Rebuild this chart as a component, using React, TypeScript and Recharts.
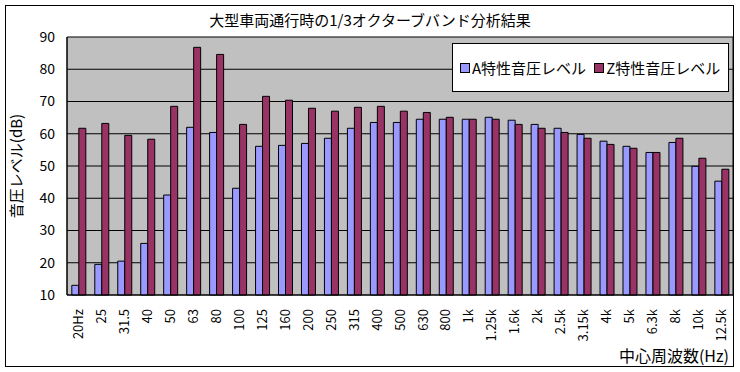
import { BarChart, Bar, XAxis, YAxis, CartesianGrid } from "recharts";

const bands = [
  "20Hz", "25", "31.5", "40", "50", "63", "80", "100", "125", "160",
  "200", "250", "315", "400", "500", "630", "800", "1k", "1.25k", "1.6k",
  "2k", "2.5k", "3.15k", "4k", "5k", "6.3k", "8k", "10k", "12.5k",
];

const aWeighted = [
  13.0, 19.5, 20.5, 26.0, 41.0, 62.0, 60.4, 43.1, 56.1, 56.4,
  57.0, 58.6, 61.7, 63.5, 63.5, 64.5, 64.5, 64.5, 65.1, 64.2,
  62.9, 61.7, 59.8, 57.7, 56.1, 54.2, 57.3, 49.9, 45.3,
];

const zWeighted = [
  61.7, 63.2, 59.5, 58.3, 68.5, 86.8, 84.6, 62.9, 71.6, 70.4,
  67.9, 67.0, 68.2, 68.5, 67.0, 66.6, 65.1, 64.5, 64.5, 62.9,
  61.7, 60.4, 58.6, 56.7, 55.5, 54.2, 58.6, 52.4, 49.0,
];

const yTicks = [10, 20, 30, 40, 50, 60, 70, 80, 90];

const seriesA = "A特性音圧レベル";
const seriesZ = "Z特性音圧レベル";

const FONT = "'Noto Sans CJK JP', 'Noto Sans', sans-serif";

const data = bands.map((band, i) => ({ band, a: aWeighted[i], z: zWeighted[i] }));

// vertical tick labels, reading bottom to top, top-aligned under the axis
function BandTick({ x, y, payload }: { x?: number; y?: number; payload?: { value: string } }) {
  const ty = (y ?? 0) + 6;
  return (
    <text
      x={x}
      y={ty}
      transform={`rotate(-90, ${x}, ${ty})`}
      textAnchor="end"
      dy="0.35em"
      fontSize={13}
      fontFamily={FONT}
      fill="#000"
    >
      {payload?.value}
    </text>
  );
}

function LegendBox() {
  const items = [
    { name: seriesA, color: "#9999FF" },
    { name: seriesZ, color: "#993366" },
  ];
  return (
    <div style={{
      position: "absolute", left: 452, top: 43, width: 277, height: 49,
      border: "1px solid #000", background: "#fff", boxSizing: "border-box",
      display: "flex", alignItems: "center", paddingLeft: 7,
      fontFamily: FONT, fontSize: 15, whiteSpace: "nowrap",
    }}>
      {items.map((it) => (
        <div key={it.name} style={{ display: "flex", alignItems: "center", marginRight: 8 }}>
          <span style={{ width: 8, height: 8, background: it.color, border: "1px solid #000", marginRight: 2 }} />
          <span>{it.name}</span>
        </div>
      ))}
    </div>
  );
}

export default function App() {
  return (
    <div style={{ position: "absolute", left: 0, top: 0, width: 740, height: 372, background: "#fff", fontFamily: FONT }}>
      <div style={{
        position: "absolute", left: 5, top: 5, width: 729, height: 362,
        border: "1px solid #000", boxSizing: "border-box",
      }} />
      <div style={{
        position: "absolute", left: 0, top: 9, width: 740, textAlign: "center",
        fontSize: 15, color: "#000",
      }}>
        大型車両通行時の1/3オクターブバンド分析結果
      </div>
      <BarChart
        width={740}
        height={372}
        data={data}
        margin={{ top: 37, right: 7, left: 5, bottom: 6 }}
        barCategoryGap="21%"
        barGap={0}
        style={{ position: "absolute", left: 0, top: 0 }}
      >
        <CartesianGrid
          stroke="#000"
          fill="#C0C0C0"
          fillOpacity={1}
          verticalCoordinatesGenerator={({ offset }: any) => [offset.left, offset.left + offset.width]}
        />
        <XAxis
          dataKey="band"
          height={71}
          interval={0}
          tick={<BandTick />}
          tickLine={false}
          axisLine={{ stroke: "#000" }}
          label={{
            value: "中心周波数(Hz)",
            position: "insideBottomRight",
            offset: 4,
            style: { fontSize: 16, fill: "#000", fontFamily: FONT },
          }}
        />
        <YAxis
          width={62}
          domain={[10, 90]}
          ticks={yTicks}
          interval={0}
          tickLine={false}
          axisLine={{ stroke: "#000" }}
          tick={{ fontSize: 14, fill: "#000", fontFamily: FONT }}
          tickMargin={6}
          label={{
            value: "音圧レベル(dB)",
            angle: -90,
            position: "insideLeft",
            offset: 12,
            style: { fontSize: 15, fill: "#000", textAnchor: "middle", fontFamily: FONT },
          }}
        />
        <Bar dataKey="a" name={seriesA} fill="#9999FF" stroke="#000" strokeWidth={1} isAnimationActive={false} />
        <Bar dataKey="z" name={seriesZ} fill="#993366" stroke="#000" strokeWidth={1} isAnimationActive={false} />
      </BarChart>
      <LegendBox />
    </div>
  );
}
